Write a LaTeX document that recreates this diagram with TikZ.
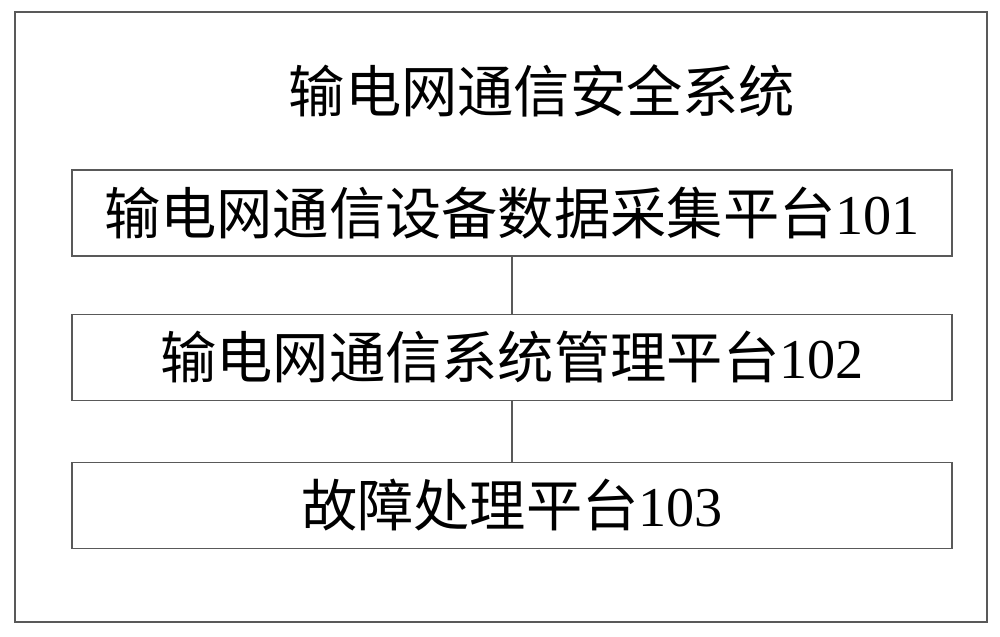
\documentclass[tikz,border=0pt]{standalone}
\usepackage{fontspec}
\setmainfont{Liberation Serif}
\newfontfamily\cjk{Noto Sans CJK SC}
\begin{document}
\begin{tikzpicture}[x=0.01cm, y=-0.01cm, font=\fontsize{16}{19}\selectfont,
  platform/.style={draw=gray!70!black, line width=0.5pt, minimum width=8.8cm, minimum height=0.86cm, inner sep=0pt}]
\useasboundingbox (0,0) rectangle (1000,637);
\draw[gray!70!black, line width=0.5pt] (15,12) rectangle (987,622);

\node (title) at (542,91) {\cjk 输电网通信安全系统};
\node[platform] (collect) at (512,213) {{\cjk 输电网通信设备数据采集平台}101};
\node[platform] (manage) at (512,357.5) {{\cjk 输电网通信系统管理平台}102};
\node[platform] (fault) at (512,505.5) {{\cjk 故障处理平台}103};

\draw[gray!70!black, line width=0.5pt] (collect) -- (manage);
\draw[gray!70!black, line width=0.5pt] (manage) -- (fault);
\end{tikzpicture}
\end{document}
